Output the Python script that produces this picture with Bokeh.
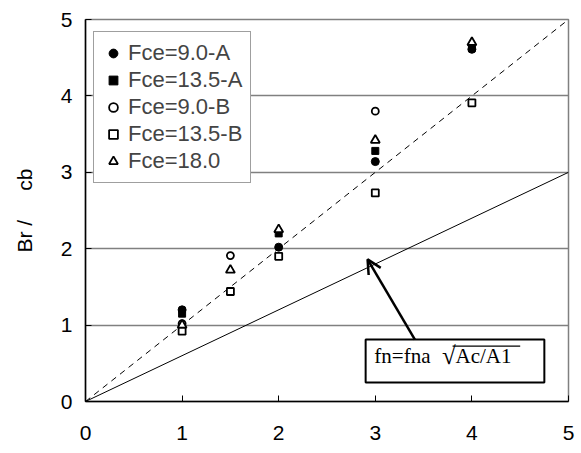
from bokeh.plotting import figure
from bokeh.models import Range1d, Legend, LegendItem, Label, Arrow, OpenHead, FixedTicker
from bokeh.embed import file_html
from bokeh.resources import INLINE

# data
x_a9 = [1, 2, 3, 4]
y_a9 = [1.20, 2.02, 3.14, 4.61]
x_a135 = [1, 2, 3, 4]
y_a135 = [1.15, 2.20, 3.28, 4.63]
x_b9 = [1, 1.5, 3]
y_b9 = [1.02, 1.91, 3.80]
x_b135 = [1, 1.5, 2, 3, 4]
y_b135 = [0.92, 1.44, 1.90, 2.73, 3.91]
x_18 = [1, 1.5, 2, 3, 4]
y_18 = [1.00, 1.72, 2.25, 3.42, 4.70]
ref_x = [0, 5]
ref_dash_y = [0, 5]
ref_solid_y = [0, 3]
ticks = [0, 1, 2, 3, 4, 5]

FONT = "Liberation Sans"

p = figure(width=581, height=453, output_backend="svg", toolbar_location=None,
           x_range=Range1d(0, 5), y_range=Range1d(0, 5),
           min_border_left=85, min_border_right=13, min_border_top=19, min_border_bottom=52)
p.outline_line_color = "#808080"
p.outline_line_width = 1.5
p.background_fill_color = "white"
p.border_fill_color = "white"

for ax in (p.xaxis[0], p.yaxis[0]):
    ax.ticker = FixedTicker(ticks=ticks)
    ax.axis_line_color = "black"
    ax.axis_line_width = 1.5
    ax.major_tick_line_color = "black"
    ax.major_tick_in = 6
    ax.major_tick_out = 0
    ax.minor_tick_line_color = None
    ax.major_label_text_font = FONT
    ax.major_label_text_font_size = "21px"
    ax.major_label_text_color = "black"
p.xaxis.major_label_standoff = 24
p.yaxis.major_label_standoff = 13
p.yaxis.axis_label = "Br /\u00a0\u00a0\u00a0\u00a0 cb"
p.yaxis.axis_label_text_font = FONT
p.yaxis.axis_label_text_font_size = "21px"
p.yaxis.axis_label_text_font_style = "normal"
p.yaxis.axis_label_text_color = "black"
p.yaxis.axis_label_standoff = 22

p.xgrid.grid_line_color = None
p.ygrid.ticker = FixedTicker(ticks=[1, 2, 3, 4])
p.ygrid.grid_line_color = "#808080"
p.ygrid.grid_line_width = 1.5

p.line(ref_x, ref_dash_y, line_color="black", line_dash="6 5", line_width=1)
p.line(ref_x, ref_solid_y, line_color="black", line_width=1)

S = 8
r1 = p.scatter(x_a9, y_a9, marker="circle", size=S, fill_color="black", line_color="black")
r2 = p.scatter(x_a135, y_a135, marker="square", size=S - 1, fill_color="black", line_color="black")
r3 = p.scatter(x_b9, y_b9, marker="circle", size=S - 1, fill_color="white", line_color="black", line_width=1.8)
r4 = p.scatter(x_b135, y_b135, marker="square", size=S - 1, fill_color="white", line_color="black", line_width=1.8)
r5 = p.scatter(x_18, y_18, marker="triangle", size=S + 1, fill_color="white", line_color="black", line_width=1.8)

legend = Legend(items=[
    LegendItem(label="Fce=9.0-A", renderers=[r1]),
    LegendItem(label="Fce=13.5-A", renderers=[r2]),
    LegendItem(label="Fce=9.0-B", renderers=[r3]),
    LegendItem(label="Fce=13.5-B", renderers=[r4]),
    LegendItem(label="Fce=18.0", renderers=[r5]),
], location=(8, 218))
legend.label_text_font = FONT
legend.label_text_font_size = "22px"
legend.label_height = 22
legend.glyph_height = 22
legend.glyph_width = 22
legend.label_standoff = 4
legend.spacing = 1
legend.padding = 8
legend.margin = 0
legend.border_line_color = "#404040"
legend.border_line_width = 1.5
legend.background_fill_alpha = 1
p.add_layout(legend, "center")

# annotation box (drawn as glyphs so the overline stays on top)
box_left, box_right, box_bottom, box_top = 2.90, 4.75, 0.25, 0.81
p.quad(left=[box_left], right=[box_right], bottom=[box_bottom], top=[box_top],
       fill_color="white", line_color="black", line_width=2)
p.segment(x0=[3.80], y0=[0.725], x1=[4.50], y1=[0.725], line_color="black", line_width=1.2)
p.add_layout(Label(x=2.99, y=0.44, text="fn=fna", text_font="Liberation Serif",
                   text_font_size="21px", text_color="black"))
p.add_layout(Label(x=3.69, y=0.42, text="\u221a", text_font="Liberation Serif",
                   text_font_size="25px", text_color="black"))
p.add_layout(Label(x=3.83, y=0.44, text="Ac/A1", text_font="Liberation Serif",
                   text_font_size="21px", text_color="black"))

p.add_layout(Arrow(end=OpenHead(size=14, line_width=2.5, line_color="black"),
                   x_start=3.41, y_start=0.81, x_end=2.92, y_end=1.86,
                   line_width=2.5, line_color="black"))

open("out.html", "w").write(file_html(p, INLINE))
